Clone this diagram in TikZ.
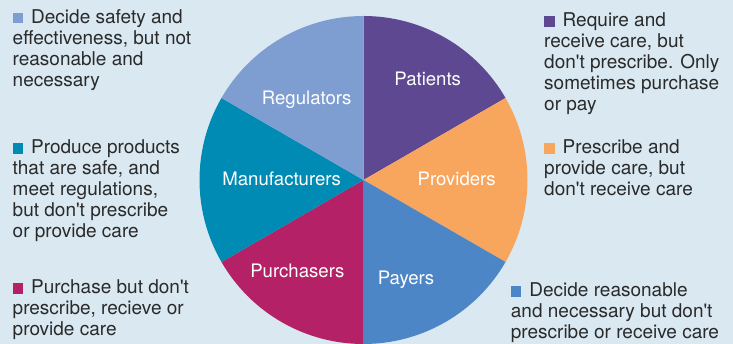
\documentclass[tikz,border=0pt]{standalone}
\usepackage{fontspec}
\setmainfont{TeX Gyre Heros}
\usetikzlibrary{positioning}

\definecolor{bgblue}{RGB}{217,232,241}
\definecolor{textgray}{RGB}{42,42,42}
\definecolor{patientcol}{RGB}{94,72,146}
\definecolor{providercol}{RGB}{248,166,94}
\definecolor{payercol}{RGB}{77,134,198}
\definecolor{purchasercol}{RGB}{181,33,102}
\definecolor{makercol}{RGB}{0,139,180}
\definecolor{regulatorcol}{RGB}{126,158,209}

\tikzset{
  slicelabel/.style={text=white, font=\fontsize{18.6}{21}\selectfont, inner sep=0pt, anchor=base},
  roletext/.style={text=textgray, font=\fontsize{19}{21}\selectfont, align=left, anchor=north west, inner sep=0pt}
}
\newcommand{\bulletsq}[1]{\textcolor{#1}{\rule{10.5pt}{10.5pt}}\hspace{8pt}}
\newcommand{\dont}{don\textquotesingle t}

\begin{document}
\begin{tikzpicture}[x=1pt,y=1pt]
  % background
  \fill[bgblue] (0,0) rectangle (733,344);

  % pie
  \coordinate (c) at (363.5,164);
  \foreach \a/\b/\col in {30/90/patientcol, -30/30/providercol, -90/-30/payercol,
                          -150/-90/purchasercol, 150/210/makercol, 90/150/regulatorcol} {
    \fill[\col] (c) -- ++(\a:164) arc[start angle=\a, end angle=\b, radius=164] -- cycle;
  }

  % slice names
  \node[slicelabel] (patients) at (427.7,258) {Patients};
  \node[slicelabel] (providers) at (456.7,158.3) {Providers};
  \node[slicelabel] (payers) at (406,59) {Payers};
  \node[slicelabel] (purchasers) at (297.3,66.3) {Purchasers};
  \node[slicelabel] (makers) at (281.7,158.3) {Manufacturers};
  \node[slicelabel] (regulators) at (306.7,239.7) {Regulators};

  % left column
  \node[roletext] (regtext) at (12.5,335) {\bulletsq{regulatorcol}Decide safety and\\
    effectiveness, but not\\ reasonable and\\ necessary};
  \node[roletext] (maketext) at (12.5,204.2) {\bulletsq{makercol}Produce products\\
    that are safe, and\\ meet regulations,\\ but \dont{} prescribe\\ or provide care};
  \node[roletext] (purchtext) at (12.5,64.5) {\bulletsq{purchasercol}Purchase but \dont\\
    prescribe, recieve or\\ provide care};

  % right column
  \node[roletext] (pattext) at (544,331.5) {\bulletsq{patientcol}Require and\\
    receive care, but\\ \dont{} prescribe. Only\\ sometimes purchase\\ or pay};
  \node[roletext] (provtext) at (544,204.5) {\bulletsq{providercol}Prescribe and\\
    provide care, but\\ \dont{} receive care};
  \node[roletext] (paytext) at (510.7,61.5) {\bulletsq{payercol}Decide reasonable\\
    and necessary but \dont\\ prescribe or receive care};
\end{tikzpicture}
\end{document}
